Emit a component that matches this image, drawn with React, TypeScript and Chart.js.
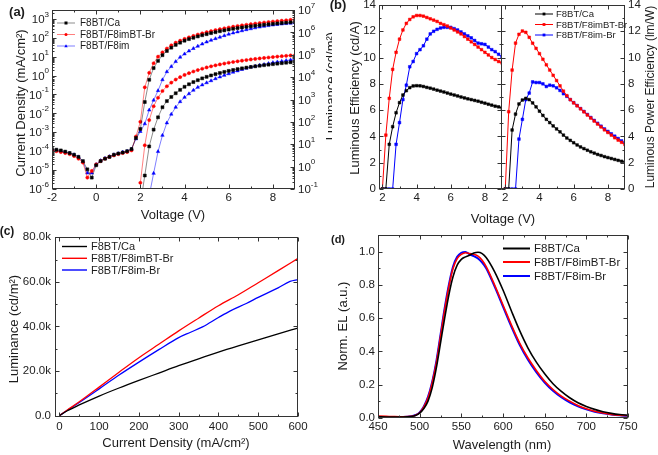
import React, { useEffect, useRef } from "react";
import { Chart, registerables } from "chart.js";

Chart.register(...registerables);

const FONT = "'Liberation Sans', Arial, Helvetica, sans-serif";
const INK = "#1c1c1c";
const FRAME = "#333333";
const W = 658;
const H = 455;
const BLACK = "#000000";
const RED = "#ff0000";
const BLUE = "#0000ff";

// ================= (a) J–V–L =================
const voltA = [-2.0, -1.8, -1.6, -1.4, -1.2, -1.0, -0.8, -0.6, -0.4, -0.2, 0.0, 0.2, 0.4, 0.6, 0.8, 1.0, 1.2, 1.4, 1.6, 1.8,
  2.0, 2.2, 2.4, 2.6, 2.8, 3.0, 3.2, 3.4, 3.6, 3.8, 4.0, 4.2, 4.4, 4.6, 4.8, 5.0, 5.2, 5.4, 5.6, 5.8,
  6.0, 6.2, 6.4, 6.6, 6.8, 7.0, 7.2, 7.4, 7.6, 7.8, 8.0, 8.2, 8.4, 8.6, 8.8, 9.0];
const jCa = [1.3e-4, 1.2e-4, 1.1e-4, 9.5e-5, 8e-5, 6.5e-5, 5e-5, 3e-5, 1.1e-5, 4e-6, 1.8e-5, 3e-5, 4e-5, 5e-5, 6.5e-5, 7.5e-5, 8.5e-5, 1.0e-4, 1.3e-4, 5e-4,
  1.5e-3, 0.04, 0.6, 2.5, 6, 12, 20, 30, 42, 55, 70, 85, 100, 118, 136, 155, 176, 198, 222, 246,
  272, 298, 324, 350, 378, 405, 432, 460, 488, 516, 545, 574, 603, 632, 661, 690];
const jImBT = [1.1e-4, 1.0e-4, 9e-5, 8e-5, 7e-5, 5.5e-5, 4e-5, 2.5e-5, 4e-6, 9e-6, 2e-5, 3e-5, 4e-5, 5e-5, 6e-5, 7e-5, 8e-5, 9e-5, 1.1e-4, 6e-4,
  3.6e-3, 0.24, 1.4, 4.5, 10, 17, 27, 40, 55, 70, 87, 105, 125, 148, 172, 198, 225, 255, 285, 317,
  350, 385, 420, 455, 490, 525, 562, 600, 640, 680, 720, 760, 800, 845, 890, 940];
const jIm = [1.2e-4, 1.1e-4, 1.0e-4, 9e-5, 8e-5, 6.5e-5, 5e-5, 2.8e-5, 7e-6, 7e-6, 2e-5, 3.2e-5, 4.2e-5, 5.2e-5, 6.5e-5, 7.5e-5, 9e-5, 1.0e-4, 1.3e-4, 4.5e-4,
  1.1e-3, 2.8e-3, 0.015, 0.05, 0.16, 0.6, 1.6, 3, 5.5, 9.4, 14, 20, 27, 36, 47, 60, 74, 90, 108, 130,
  155, 180, 205, 235, 268, 300, 335, 370, 405, 440, 475, 505, 535, 565, 595, 625];
const voltL = [2.0, 2.2, 2.4, 2.6, 2.8, 3.0, 3.2, 3.4, 3.6, 3.8, 4.0, 4.2, 4.4, 4.6, 4.8, 5.0, 5.2, 5.4, 5.6, 5.8,
  6.0, 6.2, 6.4, 6.6, 6.8, 7.0, 7.2, 7.4, 7.6, 7.8, 8.0, 8.2, 8.4, 8.6, 8.8, 9.0];
const lumCa = [0.02, 0.4, 8, 45, 160, 450, 850, 1300, 1900, 2700, 3700, 4800, 6000, 7300, 8800, 10300, 11900, 13600, 15300, 17100,
  19000, 20900, 22800, 24700, 26600, 28500, 30400, 32300, 34200, 36100, 38000, 40000, 42000, 44000, 46000, 48000];
const lumImBT = [0.19, 9, 120, 500, 1200, 2400, 3900, 5700, 7800, 10000, 12500, 15000, 17800, 20700, 23700, 27000, 30300, 33700, 37000, 40500,
  44000, 47500, 51000, 54500, 58000, 61500, 65000, 68500, 72000, 75500, 79000, 82500, 86000, 89500, 93000, 96000];
const lumIm = [null, null, 0.05, 0.5, 4.7, 25, 90, 220, 450, 800, 1250, 1800, 2600, 3500, 4500, 5600, 6900, 8500, 10200, 12000,
  14100, 16600, 19000, 21900, 25000, 28000, 31000, 34000, 37000, 40500, 44500, 48000, 51000, 55000, 59000, 63000];
const aXTicks = [-2, 0, 2, 4, 6, 8];
const aXMinor = [-1, 1, 3, 5, 7];
const aJExp = [-6, -5, -4, -3, -2, -1, 0, 1, 2, 3];
const aLExp = [-1, 0, 1, 2, 3, 4, 5, 6, 7];

// ================= (b) efficiencies =================
const voltB = [2.0, 2.2, 2.4, 2.6, 2.8, 3.0, 3.2, 3.4, 3.6, 3.8, 4.0, 4.2, 4.4, 4.6, 4.8, 5.0, 5.2, 5.4, 5.6, 5.8,
  6.0, 6.2, 6.4, 6.6, 6.8, 7.0, 7.2, 7.4, 7.6, 7.8, 8.0, 8.2, 8.4, 8.6, 8.8, 9.0];
const leCa = [0, 0, 3.4, 4.74, 5.8, 6.57, 7.15, 7.48, 7.71, 7.84, 7.86, 7.85, 7.8, 7.73, 7.67, 7.6, 7.52, 7.45, 7.38, 7.3,
  7.22, 7.15, 7.08, 7.0, 6.93, 6.86, 6.8, 6.74, 6.68, 6.6, 6.53, 6.45, 6.38, 6.3, 6.25, 6.17];
const leImBT = [0, 4.1, 6.9, 9.1, 10.4, 11.4, 12.1, 12.6, 12.9, 13.1, 13.2, 13.2, 13.15, 13.05, 12.95, 12.85, 12.75, 12.6, 12.5, 12.4,
  12.25, 12.1, 11.95, 11.8, 11.6, 11.4, 11.2, 11.0, 10.8, 10.6, 10.4, 10.2, 10.0, 9.85, 9.7, 9.6];
const leIm = [0, 0, 0, 0, 3.4, 5.05, 6.8, 7.9, 9.3, 9.7, 10.3, 10.6, 10.9, 11.4, 11.8, 12.0, 12.15, 12.25, 12.3, 12.3,
  12.3, 12.2, 12.1, 11.95, 11.8, 11.65, 11.5, 11.3, 11.1, 11.05, 11.0, 10.8, 10.6, 10.45, 10.25, 10.05];
const peCa = [0, 0, 4.49, 5.7, 6.47, 6.77, 6.9, 6.8, 6.55, 6.25, 5.92, 5.6, 5.3, 5.05, 4.8, 4.57, 4.35, 4.1, 3.88, 3.7,
  3.52, 3.35, 3.2, 3.07, 2.95, 2.83, 2.73, 2.63, 2.55, 2.46, 2.39, 2.32, 2.25, 2.18, 2.11, 2.05];
const peImBT = [0, 5.88, 9.05, 11.1, 11.77, 12.02, 11.92, 11.54, 11.09, 10.7, 10.3, 9.87, 9.45, 9.05, 8.65, 8.25, 7.85, 7.45, 7.1, 6.8,
  6.55, 6.33, 6.1, 5.87, 5.63, 5.4, 5.17, 4.94, 4.72, 4.5, 4.3, 4.1, 3.9, 3.72, 3.55, 3.38];
const peIm = [0, 0, 0, 0, 3.8, 5.3, 6.8, 7.3, 8.15, 8.1, 8.1, 8.0, 7.8, 7.9, 7.85, 7.7, 7.5, 7.25, 7.05, 6.8,
  6.57, 6.35, 6.12, 5.9, 5.67, 5.44, 5.22, 5.0, 4.78, 4.57, 4.38, 4.2, 4.02, 3.84, 3.66, 3.5];
const bXTicks = [2, 4, 6, 8];
const bXMinor = [3, 5, 7];
const bYTicks = [0, 2, 4, 6, 8, 10, 12, 14];
const bYMinor = [1, 3, 5, 7, 9, 11, 13];

// ================= (c) L vs J =================
const cjCa = [0, 20, 50, 100, 150, 200, 250, 300, 350, 400, 450, 500, 550, 600];
const clCa = [0, 2200, 4800, 8800, 12400, 15800, 19100, 22400, 25500, 28500, 31300, 34000, 36700, 39300];
const cjImBT = [0, 20, 50, 100, 150, 200, 250, 300, 350, 400, 450, 500, 550, 600];
const clImBT = [0, 2500, 6200, 12800, 19500, 26000, 32000, 38000, 43700, 49300, 54200, 59600, 65000, 70500];
const cjIm = [0, 20, 50, 100, 150, 200, 250, 300, 330, 360, 400, 430, 470, 500, 550, 580, 600];
const clIm = [0, 2400, 5900, 12000, 18200, 24000, 29600, 35000, 37400, 39800, 44000, 47000, 50300, 53000, 57300, 60200, 61000];
const cXTicks = [0, 100, 200, 300, 400, 500, 600];
const cXMinor = [50, 150, 250, 350, 450, 550];
const cYTicks = [0, 20000, 40000, 60000, 80000];
const cYLabels = ["0.0", "20.0k", "40.0k", "60.0k", "80.0k"];
const cYMinor = [10000, 30000, 50000, 70000];

// ================= (d) EL spectra =================
const wl = [450, 460, 470, 480, 490, 495, 500, 505, 510, 515, 520, 525, 530, 535, 540, 545, 550, 555, 560, 565,
  570, 575, 580, 590, 600, 610, 620, 630, 640, 650, 660, 670, 680, 690, 700, 710, 720, 730, 740, 750];
const elCa = [0.005, 0.004, 0.004, 0.004, 0.007, 0.013, 0.027, 0.055, 0.1, 0.18, 0.3, 0.45, 0.6, 0.74, 0.85, 0.92, 0.955, 0.97, 0.98, 0.993,
  0.998, 0.99, 0.965, 0.88, 0.77, 0.645, 0.525, 0.42, 0.335, 0.265, 0.205, 0.158, 0.12, 0.09, 0.068, 0.05, 0.036, 0.026, 0.019, 0.015];
const elImBT = [0.01, 0.008, 0.006, 0.005, 0.008, 0.015, 0.03, 0.065, 0.12, 0.21, 0.33, 0.49, 0.65, 0.79, 0.9, 0.96, 0.985, 0.995, 0.99, 0.985,
  0.975, 0.95, 0.91, 0.8, 0.68, 0.56, 0.45, 0.36, 0.285, 0.22, 0.17, 0.13, 0.1, 0.074, 0.054, 0.039, 0.028, 0.02, 0.015, 0.012];
const elIm = [0.005, 0.004, 0.004, 0.004, 0.008, 0.016, 0.032, 0.068, 0.125, 0.215, 0.34, 0.5, 0.66, 0.8, 0.91, 0.97, 0.995, 1.0, 0.985, 0.975,
  0.96, 0.935, 0.9, 0.79, 0.67, 0.55, 0.44, 0.35, 0.275, 0.212, 0.162, 0.123, 0.092, 0.068, 0.05, 0.036, 0.026, 0.019, 0.014, 0.011];
const dXTicks = [450, 500, 550, 600, 650, 700, 750];
const dXMinor = [475, 525, 575, 625, 675, 725];
const dYTicks = [0, 0.2, 0.4, 0.6, 0.8, 1.0];
const dYMinor = [0.1, 0.3, 0.5, 0.7, 0.9];

const legendA = ["F8BT/Ca", "F8BT/F8imBT-Br", "F8BT/F8im"];
const legendBCD = ["F8BT/Ca", "F8BT/F8imBT-Br", "F8BT/F8im-Br"];

// ================= helpers =================
type Area = { left: number; top: number; right: number; bottom: number };
type Side = "left" | "right" | "top" | "bottom";
type TickSet = {
  scale: string; side: Side; major: number[]; minor: number[];
  labels?: string[]; sup?: boolean; offset?: number; size?: number;
};
type TextItem = { text: string; x: number; y: number; size: number; rot?: boolean; bold?: boolean };
type LegendItem = { text: string; color: string; line: string; marker?: string };
type LegendSpec = { items: LegendItem[]; x0: number; x1: number; tx: number; ys: number[]; size: number; lw: number; mr?: number };
type Decor = { ticks: TickSet[]; texts: TextItem[]; legend?: LegendSpec; bg?: number[] };

const pts = (xs: number[], ys: (number | null)[]) => xs.map((x, i) => ({ x, y: ys[i] }));
const fmt = (arr: number[], d: number) => arr.map((v) => v.toFixed(d));

function logMinor(lo: number, hi: number) {
  const out: number[] = [];
  for (let n = lo; n <= hi; n++) for (let k = 2; k <= 9; k++) out.push(k * Math.pow(10, n));
  return out;
}

function drawMarker(ctx: CanvasRenderingContext2D, style: string, x: number, y: number, r: number, color: string) {
  ctx.fillStyle = color;
  ctx.beginPath();
  if (style === "rect") ctx.rect(x - r, y - r, 2 * r, 2 * r);
  else if (style === "circle") ctx.arc(x, y, r, 0, Math.PI * 2);
  else {
    ctx.moveTo(x, y - r * 1.25);
    ctx.lineTo(x + r * 1.15, y + r * 0.85);
    ctx.lineTo(x - r * 1.15, y + r * 0.85);
    ctx.closePath();
  }
  ctx.fill();
}

function decorPlugin(d: Decor) {
  return {
    id: "decor",
    beforeDraw(chart: any) {
      if (d.bg) {
        const c = chart.ctx;
        c.save();
        c.fillStyle = "#ffffff";
        c.fillRect(d.bg[0], d.bg[1], d.bg[2], d.bg[3]);
        c.restore();
      }
    },
    afterDraw(chart: any) {
      const ctx: CanvasRenderingContext2D = chart.ctx;
      const a = chart.chartArea;
      const L = Math.round(a.left) + 0.5;
      const R = Math.round(a.right) - 0.5;
      const T = Math.round(a.top) + 0.5;
      const B = Math.round(a.bottom) - 0.5;
      ctx.save();
      ctx.strokeStyle = FRAME;
      ctx.lineWidth = 1;
      ctx.strokeRect(L, T, R - L, B - T);
      for (const t of d.ticks) {
        const s = chart.scales[t.scale];
        const tick = (v: number, len: number) => {
          const raw = s.getPixelForValue(v);
          const horiz = t.side === "bottom" || t.side === "top";
          if (horiz && (raw < a.left - 0.5 || raw > a.right + 0.5)) return;
          if (!horiz && (raw < a.top - 0.5 || raw > a.bottom + 0.5)) return;
          const p = Math.round(raw) + 0.5;
          ctx.beginPath();
          if (t.side === "bottom") { ctx.moveTo(p, B); ctx.lineTo(p, B - len); }
          else if (t.side === "top") { ctx.moveTo(p, T); ctx.lineTo(p, T + len); }
          else if (t.side === "left") { ctx.moveTo(L, p); ctx.lineTo(L + len, p); }
          else { ctx.moveTo(R, p); ctx.lineTo(R - len, p); }
          ctx.stroke();
        };
        t.major.forEach((v) => tick(v, 4));
        t.minor.forEach((v) => tick(v, 2));
        if (t.labels) {
          const fs = t.size || 11.5;
          const off = t.offset || 4;
          ctx.fillStyle = INK;
          ctx.textBaseline = "middle";
          t.major.forEach((v, i) => {
            const p = s.getPixelForValue(v);
            const txt = t.labels![i];
            if (t.sup) {
              ctx.font = `${fs}px ${FONT}`;
              const wb = ctx.measureText("10").width;
              ctx.font = `${fs * 0.7}px ${FONT}`;
              const we = ctx.measureText(txt).width;
              const x0 = t.side === "left" ? a.left - off - wb - we : a.right + off;
              ctx.textAlign = "left";
              ctx.font = `${fs}px ${FONT}`;
              ctx.fillText("10", x0, p + 1);
              ctx.font = `${fs * 0.7}px ${FONT}`;
              ctx.fillText(txt, x0 + wb, p - fs * 0.38);
            } else {
              ctx.font = `${fs}px ${FONT}`;
              if (t.side === "bottom") { ctx.textAlign = "center"; ctx.fillText(txt, p, a.bottom + off); }
              else if (t.side === "left") { ctx.textAlign = "right"; ctx.fillText(txt, a.left - off, p); }
              else if (t.side === "right") { ctx.textAlign = "left"; ctx.fillText(txt, a.right + off, p); }
            }
          });
        }
      }
      for (const t of d.texts) {
        ctx.save();
        ctx.font = `${t.bold ? "bold " : ""}${t.size}px ${FONT}`;
        ctx.fillStyle = INK;
        ctx.textAlign = "center";
        ctx.textBaseline = "middle";
        ctx.translate(t.x, t.y);
        if (t.rot) ctx.rotate(-Math.PI / 2);
        ctx.fillText(t.text, 0, 0);
        ctx.restore();
      }
      if (d.legend) {
        const lg = d.legend;
        lg.items.forEach((it, i) => {
          const y = lg.ys[i];
          ctx.strokeStyle = it.line;
          ctx.lineWidth = lg.lw;
          ctx.beginPath();
          ctx.moveTo(lg.x0, y);
          ctx.lineTo(lg.x1, y);
          ctx.stroke();
          if (it.marker) drawMarker(ctx, it.marker, (lg.x0 + lg.x1) / 2, y, lg.mr || 1.6, it.color);
          ctx.fillStyle = INK;
          ctx.font = `${lg.size}px ${FONT}`;
          ctx.textAlign = "left";
          ctx.textBaseline = "middle";
          ctx.fillText(it.text, lg.tx, y + 0.5);
        });
      }
      ctx.restore();
    },
  };
}

function baseOptions(area: Area, scales: any) {
  return {
    responsive: false,
    maintainAspectRatio: false,
    animation: false as const,
    devicePixelRatio: 1,
    events: [] as any[],
    layout: {
      autoPadding: false,
      padding: { left: area.left, top: area.top, right: W - area.right, bottom: H - area.bottom },
    },
    plugins: { legend: { display: false }, tooltip: { enabled: false }, title: { display: false } },
    scales,
  };
}

const lin = (min: number, max: number) => ({ type: "linear", min, max, display: false });
const logS = (min: number, max: number) => ({ type: "logarithmic", min, max, display: false });

function markerDs(label: string, data: any[], color: string, line: string, style: string, r: number, axis: string) {
  return {
    label, data, yAxisID: axis, xAxisID: "x",
    borderColor: line, borderWidth: 1, tension: 0, fill: false,
    pointStyle: style, pointRadius: r, pointBackgroundColor: color, pointBorderColor: color, pointBorderWidth: 0.5,
  };
}

function smoothDs(label: string, data: any[], color: string, width: number) {
  return {
    label, data, borderColor: color, borderWidth: width, pointRadius: 0, fill: false,
    cubicInterpolationMode: "monotone",
  };
}

// ================= panel builders =================
function makeA(cv: HTMLCanvasElement) {
  const area = { left: 52, top: 10, right: 295, bottom: 189 };
  const lineK = "rgba(0,0,0,0.45)", lineR = "rgba(255,0,0,0.5)", lineB = "rgba(0,0,255,0.5)";
  const decor: Decor = {
    ticks: [
      { scale: "x", side: "bottom", major: aXTicks, minor: aXMinor, labels: aXTicks.map(String), offset: 9 },
      { scale: "x", side: "top", major: aXTicks, minor: aXMinor },
      { scale: "yJ", side: "left", major: aJExp.map((n) => Math.pow(10, n)), minor: logMinor(-6, 3), labels: aJExp.map(String), sup: true, offset: 3 },
      { scale: "yL", side: "right", major: aLExp.map((n) => Math.pow(10, n)), minor: logMinor(-1, 6), labels: aLExp.map(String), sup: true, offset: 3 },
    ],
    texts: [
      { text: "Current Density (mA/cm²)", x: 21, y: 103, size: 13, rot: true },
      { text: "Luminance (cd/m²)", x: 331, y: 86, size: 13, rot: true },
      { text: "Voltage (V)", x: 173, y: 215, size: 13 },
      { text: "(a)", x: 17, y: 12, size: 13, bold: true },
    ],
    legend: {
      items: [
        { text: legendA[0], color: BLACK, line: lineK, marker: "rect" },
        { text: legendA[1], color: RED, line: lineR, marker: "circle" },
        { text: legendA[2], color: BLUE, line: lineB, marker: "triangle" },
      ],
      x0: 57, x1: 75, tx: 80, ys: [23, 34.5, 46], size: 10, lw: 1, mr: 1.5,
    },
  };
  return new Chart(cv, {
    type: "line",
    data: {
      datasets: [
        markerDs(legendA[0], pts(voltA, jCa), BLACK, lineK, "rect", 2.1, "yJ"),
        markerDs(legendA[1], pts(voltA, jImBT), RED, lineR, "circle", 1.6, "yJ"),
        markerDs(legendA[2], pts(voltA, jIm), BLUE, lineB, "triangle", 2.0, "yJ"),
        markerDs(legendA[0] + " L", pts(voltL, lumCa), BLACK, lineK, "rect", 2.1, "yL"),
        markerDs(legendA[1] + " L", pts(voltL, lumImBT), RED, lineR, "circle", 1.6, "yL"),
        markerDs(legendA[2] + " L", pts(voltL, lumIm), BLUE, lineB, "triangle", 2.0, "yL"),
      ] as any,
    },
    options: baseOptions(area, { x: lin(-2, 9), yJ: logS(1e-6, 2950), yL: logS(0.1, 1e7) }) as any,
    plugins: [decorPlugin(decor)],
  });
}

function makeB1(cv: HTMLCanvasElement) {
  const area = { left: 379, top: 5, right: 502, bottom: 189 };
  const decor: Decor = {
    bg: [332, 0, 326, 226],
    ticks: [
      { scale: "x", side: "bottom", major: bXTicks, minor: bXMinor, labels: bXTicks.map(String), offset: 9 },
      { scale: "x", side: "top", major: bXTicks, minor: bXMinor },
      { scale: "y", side: "left", major: bYTicks, minor: bYMinor, labels: bYTicks.map(String), offset: 3 },
      { scale: "y", side: "right", major: bYTicks, minor: bYMinor },
    ],
    texts: [
      { text: "Luminous Efficiency (cd/A)", x: 355, y: 98, size: 13, rot: true },
      { text: "(b)", x: 338, y: 5, size: 13, bold: true },
    ],
  };
  return new Chart(cv, {
    type: "line",
    data: {
      datasets: [
        markerDs(legendBCD[0], pts(voltB, leCa), BLACK, BLACK, "rect", 1.9, "y"),
        markerDs(legendBCD[1], pts(voltB, leImBT), RED, RED, "rect", 1.9, "y"),
        markerDs(legendBCD[2], pts(voltB, leIm), BLUE, BLUE, "rect", 1.9, "y"),
      ] as any,
    },
    options: baseOptions(area, { x: lin(1.8, 9), y: lin(0, 14) }) as any,
    plugins: [decorPlugin(decor)],
  });
}

function makeB2(cv: HTMLCanvasElement) {
  const area = { left: 501, top: 5, right: 625, bottom: 189 };
  const decor: Decor = {
    ticks: [
      { scale: "x", side: "bottom", major: bXTicks, minor: bXMinor, labels: bXTicks.map(String), offset: 9 },
      { scale: "x", side: "top", major: bXTicks, minor: bXMinor },
      { scale: "y", side: "right", major: bYTicks, minor: bYMinor, labels: bYTicks.map(String), offset: 3 },
      { scale: "y", side: "left", major: bYTicks, minor: bYMinor },
    ],
    texts: [
      { text: "Luminous Power Efficiency (lm/W)", x: 651, y: 97, size: 12, rot: true },
      { text: "Voltage (V)", x: 503, y: 219, size: 13 },
    ],
    legend: {
      items: [
        { text: legendBCD[0], color: BLACK, line: BLACK, marker: "rect" },
        { text: legendBCD[1], color: RED, line: RED, marker: "rect" },
        { text: legendBCD[2], color: BLUE, line: BLUE, marker: "rect" },
      ],
      x0: 535, x1: 553, tx: 556, ys: [14, 24.5, 35], size: 9.5, lw: 1, mr: 1.4,
    },
  };
  return new Chart(cv, {
    type: "line",
    data: {
      datasets: [
        markerDs(legendBCD[0], pts(voltB, peCa), BLACK, BLACK, "rect", 1.9, "y"),
        markerDs(legendBCD[1], pts(voltB, peImBT), RED, RED, "rect", 1.9, "y"),
        markerDs(legendBCD[2], pts(voltB, peIm), BLUE, BLUE, "rect", 1.9, "y"),
      ] as any,
    },
    options: baseOptions(area, { x: lin(1.75, 9), y: lin(0, 14) }) as any,
    plugins: [decorPlugin(decor)],
  });
}

function makeC(cv: HTMLCanvasElement) {
  const area = { left: 55, top: 237, right: 298, bottom: 417 };
  const decor: Decor = {
    ticks: [
      { scale: "x", side: "bottom", major: cXTicks, minor: cXMinor, labels: cXTicks.map(String), offset: 9.5 },
      { scale: "x", side: "top", major: cXTicks, minor: cXMinor },
      { scale: "y", side: "left", major: cYTicks, minor: cYMinor, labels: cYLabels, offset: 4 },
      { scale: "y", side: "right", major: cYTicks, minor: cYMinor },
    ],
    texts: [
      { text: "Luminance (cd/m²)", x: 14, y: 329, size: 13, rot: true },
      { text: "Current Density (mA/cm²)", x: 176, y: 443, size: 13 },
      { text: "(c)", x: 7, y: 232, size: 12, bold: true },
    ],
    legend: {
      items: [
        { text: legendBCD[0], color: BLACK, line: BLACK },
        { text: legendBCD[1], color: RED, line: RED },
        { text: legendBCD[2], color: BLUE, line: BLUE },
      ],
      x0: 62, x1: 87, tx: 91, ys: [246.5, 258.3, 270], size: 11, lw: 1.4,
    },
  };
  return new Chart(cv, {
    type: "line",
    data: {
      datasets: [
        smoothDs(legendBCD[0], pts(cjCa, clCa), BLACK, 1.3),
        smoothDs(legendBCD[1], pts(cjImBT, clImBT), RED, 1.3),
        smoothDs(legendBCD[2], pts(cjIm, clIm), BLUE, 1.3),
      ] as any,
    },
    options: baseOptions(area, { x: lin(-11, 600), y: lin(-600, 80100) }) as any,
    plugins: [decorPlugin(decor)],
  });
}

function makeD(cv: HTMLCanvasElement) {
  const area = { left: 378, top: 235, right: 628, bottom: 418 };
  const decor: Decor = {
    ticks: [
      { scale: "x", side: "bottom", major: dXTicks, minor: dXMinor, labels: dXTicks.map(String), offset: 8.5 },
      { scale: "x", side: "top", major: dXTicks, minor: dXMinor },
      { scale: "y", side: "left", major: dYTicks, minor: dYMinor, labels: fmt(dYTicks, 1), offset: 3 },
      { scale: "y", side: "right", major: dYTicks, minor: dYMinor },
    ],
    texts: [
      { text: "Norm. EL (a.u.)", x: 343, y: 326, size: 13, rot: true },
      { text: "Wavelength (nm)", x: 502, y: 445, size: 13 },
      { text: "(d)", x: 338, y: 240, size: 11, bold: true },
    ],
    legend: {
      items: [
        { text: legendBCD[0], color: BLACK, line: BLACK },
        { text: legendBCD[1], color: RED, line: RED },
        { text: legendBCD[2], color: BLUE, line: BLUE },
      ],
      x0: 503, x1: 530, tx: 534, ys: [248.5, 262, 276], size: 11.5, lw: 2,
    },
  };
  return new Chart(cv, {
    type: "line",
    data: {
      datasets: [
        smoothDs(legendBCD[0], pts(wl, elCa), BLACK, 1.6),
        smoothDs(legendBCD[1], pts(wl, elImBT), RED, 1.6),
        smoothDs(legendBCD[2], pts(wl, elIm), BLUE, 2),
      ] as any,
    },
    options: baseOptions(area, { x: lin(450, 750), y: lin(-0.002, 1.102) }) as any,
    plugins: [decorPlugin(decor)],
  });
}

export default function App() {
  const r0 = useRef<HTMLCanvasElement>(null);
  const r1 = useRef<HTMLCanvasElement>(null);
  const r2 = useRef<HTMLCanvasElement>(null);
  const r3 = useRef<HTMLCanvasElement>(null);
  const r4 = useRef<HTMLCanvasElement>(null);
  const refs = [r0, r1, r2, r3, r4];

  useEffect(() => {
    const makers = [makeA, makeB1, makeB2, makeC, makeD];
    const charts = makers.map((mk, i) => mk(refs[i].current as HTMLCanvasElement));
    return () => charts.forEach((c) => c.destroy());
  }, []);

  return (
    <div style={{ position: "absolute", left: 0, top: 0, width: W, height: H, background: "#ffffff", overflow: "hidden" }}>
      {refs.map((r, i) => (
        <canvas
          key={i}
          ref={r}
          width={W}
          height={H}
          style={{ position: "absolute", left: 0, top: 0, width: W, height: H }}
        />
      ))}
    </div>
  );
}
